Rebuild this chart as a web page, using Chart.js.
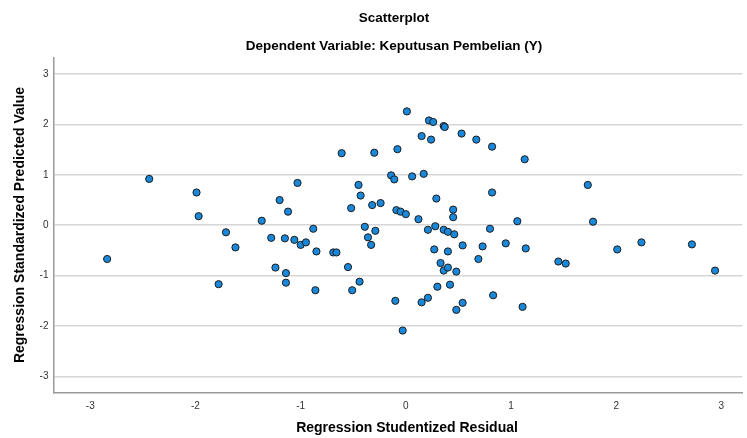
<!DOCTYPE html>
<html>
<head>
<meta charset="utf-8">
<script src="https://cdn.jsdelivr.net/npm/chart.js@4"></script>
<style>
  body { margin: 0; background: #fff; }
  canvas { display: block; }
</style>
</head>
<body>
<canvas id="scatterChart" width="747" height="438"></canvas>
<script>
// studentized residuals (x) and standardized predicted values (y)
var residuals = [-2.84, -2.44, -1.99, -1.97, -1.78, -1.71, -1.62, -1.37, -1.28, -1.24,
    -1.20, -1.15, -1.14, -1.14, -1.12, -1.06, -1.03, -1.00, -0.95, -0.88,
    -0.86, -0.85, -0.69, -0.66, -0.61, -0.55, -0.52, -0.51, -0.45, -0.44,
    -0.43, -0.39, -0.36, -0.33, -0.32, -0.30, -0.29, -0.24, -0.14, -0.11,
    -0.10, -0.09, -0.08, -0.05, -0.03, 0.00, 0.01, 0.06, 0.12, 0.15,
    0.15, 0.17, 0.21, 0.21, 0.22, 0.24, 0.26, 0.27, 0.28, 0.29,
    0.30, 0.33, 0.36, 0.37, 0.36, 0.36, 0.40, 0.40, 0.40, 0.42,
    0.45, 0.45, 0.46, 0.48, 0.48, 0.53, 0.54, 0.54, 0.67, 0.69,
    0.73, 0.80, 0.82, 0.82, 0.83, 0.95, 1.06, 1.11, 1.13, 1.14,
    1.45, 1.52, 1.73, 1.78, 2.01, 2.24, 2.72, 2.94];
var predicted = [-0.67, 0.92, 0.65, 0.18, -1.17, -0.14, -0.44, 0.09, -0.25, -0.84,
    0.50, -0.26, -0.95, -1.14, 0.27, -0.29, 0.84, -0.39, -0.34, -0.07,
    -1.29, -0.52, -0.54, -0.54, 1.43, -0.83, 0.34, -1.29, 0.80, -1.12,
    0.59, -0.03, -0.24, -0.39, 0.40, 1.44, -0.11, 0.44, 0.99, 0.91,
    -1.50, 0.30, 1.51, 0.27, -2.09, 0.22, 2.26, 0.97, 0.12, 1.77,
    -1.53, 1.02, -0.09, -1.44, 2.08, 1.70, 2.05, -0.48, -0.02, 0.53,
    -1.22, -0.75, 1.97, 1.95, -0.09, -0.90, -0.13, -0.52, -0.84, -1.18,
    0.31, 0.16, -0.18, -0.92, -1.68, 1.82, -0.40, -1.54, 1.70, -0.67,
    -0.42, -0.07, 1.56, 0.65, -1.39, -0.36, 0.08, -1.62, 1.31, -0.46,
    -0.72, -0.76, 0.80, 0.07, -0.48, -0.34, -0.38, -0.90];
var xTicks = [-3, -2, -1, 0, 1, 2, 3];
var yTicks = [-3, -2, -1, 0, 1, 2, 3];

var points = residuals.map(function (r, i) {
    return { x: r, y: predicted[i] };
});

// titles drawn as plain text around the plot
var textPlugin = {
    id: 'spssText',
    afterDraw: function (chart) {
        var c = chart.ctx;
        c.save();
        c.fillStyle = '#000';
        c.textAlign = 'center';
        c.textBaseline = 'middle';
        c.font = 'bold 13.5px "Liberation Sans", Arial, sans-serif';
        c.fillText('Scatterplot', 394, 18);
        c.fillText('Dependent Variable: Keputusan Pembelian (Y)', 394, 46);
        c.font = 'bold 14px "Liberation Sans", Arial, sans-serif';
        c.fillText('Regression Studentized Residual', 407, 428);
        c.translate(20, 225);
        c.rotate(-Math.PI / 2);
        c.fillText('Regression Standardized Predicted Value', 0, 0);
        c.restore();
    }
};

var ctx = document.getElementById('scatterChart').getContext('2d');
var myChart = new Chart(ctx, {
    type: 'scatter',
    data: {
        datasets: [{
            label: 'Cases',
            data: points,
            backgroundColor: '#1a88da',
            borderColor: '#1c1c1c',
            borderWidth: 1,
            pointRadius: 3.6,
            pointHoverRadius: 3.6
        }]
    },
    options: {
        responsive: false,
        animation: false,
        layout: { padding: { top: 58, right: 0, left: 0, bottom: 0 } },
        plugins: {
            legend: { display: false },
            tooltip: { enabled: false }
        },
        scales: {
            x: {
                type: 'linear',
                min: -3.35,
                max: 3.2,
                afterBuildTicks: function (axis) {
                    axis.ticks = xTicks.map(function (v) { return { value: v }; });
                },
                afterFit: function (axis) { axis.height = 45; },
                grid: { display: false, drawTicks: false },
                border: { display: true, color: '#9a9a9a', width: 1.5 },
                ticks: {
                    padding: 7,
                    color: '#333',
                    font: { family: '"Liberation Sans", Arial, sans-serif', size: 10 }
                }
            },
            y: {
                type: 'linear',
                min: -3.33,
                max: 3.32,
                afterBuildTicks: function (axis) {
                    axis.ticks = yTicks.map(function (v) { return { value: v }; });
                },
                afterFit: function (axis) { axis.width = 53.5; },
                grid: { color: '#d6d6d6', lineWidth: 1.5, drawTicks: false },
                border: { display: true, color: '#9a9a9a', width: 1.5 },
                ticks: {
                    padding: 5,
                    color: '#333',
                    font: { family: '"Liberation Sans", Arial, sans-serif', size: 10 }
                }
            }
        }
    },
    plugins: [textPlugin]
});
</script>
</body>
</html>
